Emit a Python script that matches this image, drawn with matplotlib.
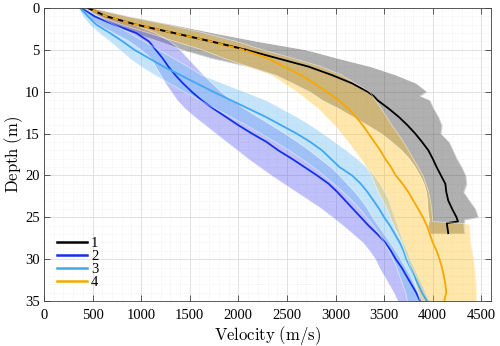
import numpy as np
import matplotlib
matplotlib.use("Agg")
import matplotlib.pyplot as plt

# ---------------- data ----------------
labels = ["1", "2", "3", "4"]

# Series 1 (black, gray band)
depth1 = [0, 1, 2, 3, 4, 5, 6, 7, 8, 9, 10, 10.5, 11, 12, 13, 14, 15, 16, 17, 18, 19, 20, 21, 22, 23, 24, 25, 25.5, 25.7, 26.9]
mean1 = [450, 640, 950, 1340, 1720, 2080, 2400, 2720, 2960, 3170, 3330, 3390, 3430, 3545, 3650, 3740, 3820, 3890, 3955, 4000, 4040, 4085, 4130, 4140, 4160, 4200, 4245, 4260, 4145, 4160]
bdepth1 = [0, 1, 2, 3, 4, 5, 6, 7, 8, 9, 10, 10.5, 11, 12, 13, 14, 15, 16, 17, 18, 19, 20, 21, 22, 23, 24, 25, 25.3, 26, 26.9]
low1 = [420, 540, 700, 920, 1180, 1420, 1720, 2100, 2380, 2560, 2730, 2800, 2860, 3030, 3180, 3330, 3470, 3580, 3680, 3760, 3820, 3870, 3910, 3935, 3945, 3950, 3960, 3965, 3950, 3970]
high1 = [500, 880, 1330, 1750, 2200, 2700, 3020, 3360, 3620, 3830, 3940, 3870, 3970, 4010, 4060, 4095, 4085, 4170, 4210, 4250, 4300, 4340, 4350, 4320, 4380, 4440, 4470, 4330, 4320, 4330]

# Series 2 (blue)
depth2 = list(range(0, 36))
mean2 = [390, 520, 720, 950, 1080, 1150, 1220, 1280, 1350, 1430, 1520, 1620, 1740, 1870, 2000, 2140, 2290, 2410, 2550, 2680, 2810, 2930, 3020, 3100, 3180, 3260, 3340, 3430, 3510, 3570, 3620, 3680, 3730, 3780, 3830, 3870]
low2 = [370, 440, 560, 720, 880, 1000, 1100, 1150, 1200, 1250, 1310, 1370, 1450, 1550, 1660, 1770, 1880, 1990, 2100, 2220, 2340, 2470, 2600, 2730, 2860, 2970, 3080, 3180, 3280, 3350, 3410, 3450, 3500, 3550, 3600, 3640]
high2 = [420, 640, 920, 1150, 1300, 1400, 1480, 1560, 1640, 1730, 1820, 1930, 2060, 2200, 2340, 2480, 2610, 2730, 2840, 2950, 3040, 3120, 3200, 3270, 3330, 3380, 3440, 3500, 3560, 3620, 3670, 3720, 3770, 3810, 3850, 3880]

# Series 3 (light blue)
depth3 = list(range(0, 36))
mean3 = [370, 450, 540, 680, 810, 930, 1080, 1230, 1400, 1570, 1740, 1920, 2100, 2280, 2440, 2600, 2740, 2860, 2950, 3040, 3170, 3260, 3330, 3390, 3450, 3500, 3560, 3610, 3660, 3700, 3730, 3770, 3810, 3850, 3890, 3940]
low3 = [360, 400, 470, 570, 680, 780, 880, 1000, 1140, 1290, 1440, 1600, 1760, 1920, 2080, 2230, 2380, 2520, 2650, 2770, 2880, 2980, 3080, 3170, 3250, 3320, 3390, 3450, 3500, 3550, 3590, 3630, 3660, 3690, 3720, 3740]
high3 = [400, 560, 720, 880, 1030, 1180, 1330, 1480, 1620, 1840, 2060, 2280, 2440, 2600, 2740, 2870, 2990, 3110, 3220, 3320, 3400, 3460, 3510, 3550, 3580, 3610, 3640, 3670, 3700, 3740, 3770, 3810, 3850, 3890, 3930, 3970]

# Series 4 (orange, yellow band)
depth4 = [0, 1, 2, 3, 4, 5, 6, 7, 8, 9, 10, 11, 12, 13, 14, 15, 16, 17, 18, 19, 20, 21, 22, 23, 24, 25, 26, 27, 28, 29, 30, 31, 32, 33, 34, 34.6, 35]
mean4 = [450, 640, 950, 1340, 1720, 2050, 2300, 2470, 2640, 2780, 2910, 3030, 3130, 3210, 3280, 3340, 3400, 3460, 3510, 3570, 3620, 3690, 3750, 3800, 3850, 3900, 3940, 3970, 4000, 4040, 4070, 4095, 4115, 4130, 4140, 4125, 4120]
bdepth4 = [0, 1, 2, 3, 4, 5, 6, 7, 8, 10, 12, 14, 16, 18, 20, 22, 24, 25.5, 25.8, 26, 28, 30, 32, 34, 35]
low4 = [430, 560, 800, 1080, 1350, 1630, 1850, 2100, 2340, 2600, 2820, 2990, 3130, 3260, 3370, 3440, 3530, 3580, 3590, 3600, 3680, 3740, 3800, 3850, 3870]
high4 = [490, 850, 1280, 1650, 1980, 2250, 2560, 2850, 3060, 3350, 3470, 3580, 3700, 3800, 3900, 3960, 3990, 4000, 4370, 4380, 4390, 4420, 4440, 4450, 4450]

xticks = [0, 500, 1000, 1500, 2000, 2500, 3000, 3500, 4000, 4500]
yticks = [0, 5, 10, 15, 20, 25, 30, 35]

# ---------------- plot ----------------
plt.rcParams['mathtext.fontset'] = 'cm'
plt.rcParams['font.family'] = ['Liberation Serif', 'DejaVu Serif']

fig = plt.figure(figsize=(5.0, 3.46), dpi=100)
ax = fig.add_axes([0.088, 0.130, 0.894, 0.847])

c_line = ['#000000', '#1030f0', '#40a8f0', '#f5a800']
c_band = ['#505050', '#6060f0', '#7cc4f6', '#ffc125']
a_band = [0.45, 0.40, 0.45, 0.38]

series = [
    (bdepth1, low1, high1, depth1, mean1),
    (depth2, low2, high2, depth2, mean2),
    (depth3, low3, high3, depth3, mean3),
    (bdepth4, low4, high4, depth4, mean4),
]
for i, (bd, lo, hi, d, m) in enumerate(series):
    ax.fill_betweenx(bd, lo, hi, color=c_band[i], alpha=a_band[i], lw=0)
    ax.plot(hi, bd, color='white', alpha=0.5, lw=0.6)
    ax.plot(lo, bd, color='white', alpha=0.5, lw=0.6)
    ax.plot(m, d, color=c_line[i], lw=1.3, label=labels[i])

# black line on top in the shared upper section (gives dashed look)
n_shared = 6
ax.plot(mean1[:n_shared], depth1[:n_shared], color=c_line[0], lw=1.3,
        dashes=(3, 3))

ax.set_xlim(0, 4600)
ax.set_ylim(35, 0)
ax.set_xticks(xticks)
ax.set_yticks(yticks)
ax.set_xticklabels([str(t) for t in xticks], fontsize=10.5)
ax.set_yticklabels([str(t) for t in yticks], fontsize=10.5)
ax.xaxis.set_minor_locator(matplotlib.ticker.MultipleLocator(100))
ax.yaxis.set_minor_locator(matplotlib.ticker.MultipleLocator(1))
ax.grid(which='major', color='#dcdcdc', lw=0.6)
ax.grid(which='minor', color='#e6e6e6', lw=0.5, linestyle=(0, (1, 2)))
ax.set_axisbelow(True)
ax.tick_params(which='major', direction='in', length=4, width=0.6,
               top=True, right=True, color='#404040')
ax.tick_params(axis='x', which='major', pad=6)
ax.tick_params(axis='y', which='major', pad=3)
ax.tick_params(which='minor', length=0)
for s in ax.spines.values():
    s.set_color('#404040')
    s.set_linewidth(0.6)

ax.set_xlabel(r'$\mathrm{Velocity\ (m/s)}$', fontsize=12, labelpad=1)
ax.set_ylabel(r'$\mathrm{Depth\ (m)}$', fontsize=12, labelpad=0)

leg = ax.legend(loc='lower left', bbox_to_anchor=(0.03, 0.04), frameon=False,
                fontsize=10.5, handlelength=2.0, handletextpad=0.3,
                labelspacing=0.0, borderpad=0, borderaxespad=0)
for h in leg.get_lines():
    h.set_linewidth(1.8)

fig.savefig('out.png', dpi=100)
